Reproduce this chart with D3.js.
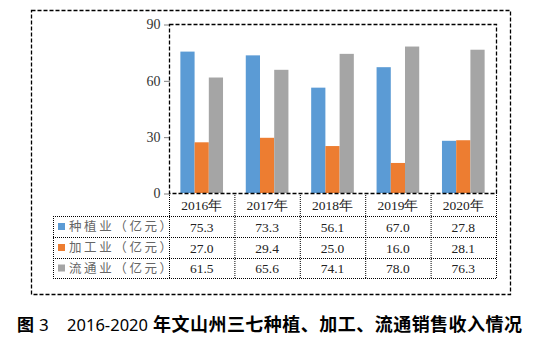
<!DOCTYPE html>
<html>
<head>
<meta charset="utf-8">
<script src="https://cdn.jsdelivr.net/npm/d3@7"></script>
<style>
body { margin: 0; background: #fff; }
svg { display: block; }
</style>
</head>
<body>
<div id="graph"></div>
<script>
// data
var years = ["2016年", "2017年", "2018年", "2019年", "2020年"];
var seriesNames = ["种植业（亿元）", "加工业（亿元）", "流通业（亿元）"];
var planting = [75.3, 73.3, 56.1, 67.0, 27.8];
var processing = [27.0, 29.4, 25.0, 16.0, 28.1];
var circulation = [61.5, 65.6, 74.1, 78.0, 76.3];
var yTicks = [0, 30, 60, 90];
var captionYears = "2016-2020";
var caption = "年文山州三七种植、加工、流通销售收入情况";

// layout
var width = 542,
    height = 339;
var plot = { left: 169, right: 496, top: 24, bottom: 193 };
var rowH = [23, 21, 21, 20];   // header row, then one per series
var tableLeft = 53;
var colors = ["#5b9bd5", "#ed7d31", "#a5a5a5"];
var serif = "'Liberation Serif', 'Times New Roman', serif";

var allSeries = [planting, processing, circulation];

var svg = d3.select("#graph")
  .append("svg")
    .attr("width", width)
    .attr("height", height);

// outer dashed frame
svg.append("rect")
    .attr("x", 31.5).attr("y", 10.5)
    .attr("width", 479).attr("height", 284)
    .attr("fill", "none")
    .attr("stroke", "#000")
    .attr("stroke-width", 1.3)
    .attr("stroke-dasharray", "4,2");

var x0 = d3.scaleBand()
    .domain(years)
    .range([plot.left, plot.right])
    .paddingInner(0).paddingOuter(0);

var x1 = d3.scaleBand()
    .domain(d3.range(seriesNames.length))
    .range([0, x0.bandwidth()])
    .paddingInner(0).paddingOuter(0.8);

var y = d3.scaleLinear()
    .domain([0, 90])
    .range([plot.bottom, plot.top]);

// bars
allSeries.forEach(function(vals, s) {
    svg.append("g").selectAll("rect")
        .data(vals)
        .enter()
        .append("rect")
        .attr("x", function(d, i) { return x0(years[i]) + x1(s); })
        .attr("width", x1.bandwidth())
        .attr("y", function(d) { return y(d); })
        .attr("height", function(d) { return y(0) - y(d); })
        .attr("fill", colors[s]);
});

// plot area border (dashed)
svg.append("rect")
    .attr("x", plot.left + 0.5).attr("y", plot.top + 0.5)
    .attr("width", plot.right - plot.left).attr("height", plot.bottom - plot.top)
    .attr("fill", "none")
    .attr("stroke", "#000")
    .attr("stroke-width", 1.3)
    .attr("stroke-dasharray", "4,2");

// y axis
var yAxis = svg.append("g")
    .attr("transform", "translate(" + (plot.left + 0.5) + ",0.5)")
    .call(d3.axisLeft(y).tickValues(yTicks).tickSize(5).tickPadding(4));
yAxis.select(".domain").remove();
yAxis.selectAll(".tick line")
    .attr("stroke", "#000")
    .attr("stroke-dasharray", "1,1");
yAxis.selectAll(".tick text")
    .attr("font-family", serif)
    .attr("font-size", 14)
    .attr("fill", "#333");

// data table
var rowTop = [plot.bottom];
for (var r = 0; r < rowH.length; r++) rowTop.push(rowTop[r] + rowH[r]);
var tableBottom = rowTop[rowTop.length - 1];

var grid = svg.append("g")
    .attr("stroke", "#000")
    .attr("stroke-width", 1)
    .attr("stroke-dasharray", "1,1")
    .attr("fill", "none");

// horizontal lines
rowTop.slice(1).forEach(function(ty) {
    grid.append("line")
        .attr("x1", tableLeft).attr("x2", plot.right)
        .attr("y1", ty + 0.5).attr("y2", ty + 0.5);
});
// vertical lines between year columns
years.forEach(function(yr) {
    grid.append("line")
        .attr("x1", x0(yr) + 0.5).attr("x2", x0(yr) + 0.5)
        .attr("y1", plot.bottom).attr("y2", tableBottom);
});
grid.append("line")
    .attr("x1", plot.right + 0.5).attr("x2", plot.right + 0.5)
    .attr("y1", plot.bottom).attr("y2", tableBottom);
grid.append("line")
    .attr("x1", tableLeft + 0.5).attr("x2", tableLeft + 0.5)
    .attr("y1", rowTop[1]).attr("y2", tableBottom);

// header: years
svg.append("g").selectAll("text")
    .data(years)
    .enter()
    .append("text")
    .attr("x", function(d) { return x0(d) + x0.bandwidth() / 2; })
    .attr("y", rowTop[0] + rowH[0] / 2 + 5)
    .attr("text-anchor", "middle")
    .attr("font-family", serif)
    .attr("font-size", 13.5)
    .attr("fill", "#222")
    .text(function(d) { return d; });

// values + legend
allSeries.forEach(function(vals, s) {
    var cy = rowTop[s + 1] + rowH[s + 1] / 2;
    svg.append("g").selectAll("text")
        .data(vals)
        .enter()
        .append("text")
        .attr("x", function(d, i) { return x0(years[i]) + x0.bandwidth() / 2; })
        .attr("y", cy + 5)
        .attr("text-anchor", "middle")
        .attr("font-family", serif)
        .attr("font-size", 13.5)
        .attr("fill", "#222")
        .text(function(d) { return d.toFixed(1); });

    svg.append("rect")
        .attr("x", 58).attr("y", cy - 3.5)
        .attr("width", 7).attr("height", 7)
        .attr("fill", colors[s]);
    svg.append("text")
        .attr("x", 69)
        .attr("y", cy + 4.5)
        .attr("font-family", "'Noto Sans CJK SC', sans-serif")
        .attr("font-size", 12.5)
        .attr("letter-spacing", 2.6)
        .attr("fill", "#666")
        .text(seriesNames[s]);
});

// caption
var capY = 331;
svg.append("text")
    .attr("x", 17).attr("y", capY)
    .attr("font-family", "'Noto Sans CJK SC', sans-serif")
    .attr("font-weight", "bold")
    .attr("font-size", 17)
    .text("图");
svg.append("text")
    .attr("x", 39).attr("y", capY)
    .attr("font-family", "'Noto Sans', sans-serif")
    .attr("font-size", 17)
    .text("3");
svg.append("text")
    .attr("x", 67).attr("y", capY)
    .attr("font-family", "'Noto Sans', sans-serif")
    .attr("font-size", 16.5)
    .attr("textLength", 81)
    .text(captionYears);
svg.append("text")
    .attr("x", 153).attr("y", capY)
    .attr("font-family", "'Noto Sans CJK SC', sans-serif")
    .attr("font-weight", "bold")
    .attr("font-size", 18)
    .attr("textLength", 369)
    .text(caption);
</script>
</body>
</html>
